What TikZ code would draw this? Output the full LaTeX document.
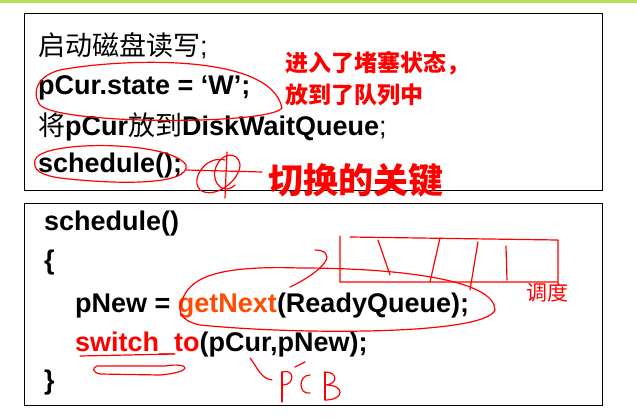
\documentclass[tikz,border=0pt]{standalone}
\usepackage{fontspec}
\setmainfont{Liberation Sans}
\newfontfamily\cjk{Noto Sans CJK SC}
\begin{document}
\begin{tikzpicture}[x=1pt,y=-1pt,
  code/.style={anchor=west,inner sep=0pt,font=\fontsize{27}{27}\selectfont},
  ann/.style={anchor=west,inner sep=0pt,text=red,font=\cjk\bfseries\fontsize{23}{23}\selectfont},
  ink/.style={red,line width=1.2pt,line cap=round,line join=round},
  frame/.style={draw=black,line width=1.2pt}]
\useasboundingbox (0,0) rectangle (637,418);
\fill[yellow!60!green!70!white] (0,0) rectangle (637,3);
\node[frame,minimum width=578,minimum height=177,anchor=north west,inner sep=0] (b1) at (24,13) {};
\node[frame,minimum width=578,minimum height=202,anchor=north west,inner sep=0] (b2) at (24,203) {};
\node[code] (l1) at (38,46) {{\cjk 启动磁盘读写};};
\node[code] (l2) at (38,88) {\textbf{pCur.state = ‘W’;}};
\node[code] (l3) at (38,127) {{\cjk 将}\textbf{pCur}{\cjk 放到}\textbf{DiskWaitQueue};};
\node[code] (l4) at (38,166) {\textbf{schedule();}};
\node[code] (m1) at (44,224) {\textbf{schedule()}};
\node[code] (m2) at (44,263) {\textbf{\{}};
\node[code] (m3) at (75,306) {\textbf{pNew = \textcolor{orange!60!red}{getNext}(ReadyQueue);}};
\node[code] (m4) at (75,345) {\textbf{\textcolor{red}{switch\_to}(pCur,pNew);}};
\node[code] (m5) at (44,383) {\textbf{\}}};
\node[ann] (a1) at (285,63) {进入了堵塞状态，};
\node[ann] (a2) at (285,95) {放到了队列中};
\node[ann,font=\cjk\bfseries\fontsize{35}{35}\selectfont] (a3) at (268,180) {切换的关键};
\node[ann,font=\cjk\fontsize{21}{21}\selectfont] (a4) at (526,292) {调度};
% circles
\draw[ink] (60,70) .. controls (110,60) and (270,50) .. (282,108) .. controls (270,125) and (60,125) .. (40,105) .. controls (30,90) and (40,75) .. (60,70);
\draw[ink] (35,160) .. controls (40,140) and (170,140) .. (186,165) .. controls (190,185) and (120,185) .. (60,178) .. controls (40,175) and (33,170) .. (35,160);
% star scribble
\draw[ink] (186,170) -- (262,172);
\draw[ink] (225,160) .. controls (205,155) and (190,180) .. (200,190) .. controls (215,200) and (240,180) .. (240,165) .. controls (238,150) and (220,152) .. (215,170) .. controls (212,185) and (225,195) .. (235,185);
\draw[ink] (227,152) -- (225,198);
% getNext ellipse
\draw[ink] (182,300) .. controls (190,280) and (210,265) .. (300,268) .. controls (400,268) and (495,280) .. (495,310) .. controls (485,335) and (300,335) .. (200,325) .. controls (178,320) and (178,310) .. (182,300);
\draw[ink] (290,287) .. controls (305,280) and (320,270) .. (325,262) .. controls (330,255) and (325,250) .. (315,250);
% queue
\draw[ink] (340,236) -- (340,282) -- (558,282) -- (558,240) -- (350,237);
\draw[ink] (378,240) -- (390,275);
\draw[ink] (440,238) -- (430,282);
\draw[ink] (478,242) -- (470,290);
\draw[ink] (506,246) -- (507,280);
% switch_to underline
\draw[ink] (80,356) -- (175,354);
\draw[ink] (97,366) -- (165,366) .. controls (190,362) and (195,372) .. (160,375) -- (100,374) .. controls (92,372) and (92,368) .. (97,366);
% PCB
\draw[ink] (250,358) .. controls (258,368) and (260,378) .. (272,380);
\draw[ink] (282,372) -- (282,402);
\draw[ink] (282,372) .. controls (295,368) and (295,385) .. (283,385);
\draw[ink] (305,362) -- (295,367);
\draw[ink] (310,375) .. controls (298,375) and (298,395) .. (310,393);
\draw[ink] (325,372) -- (325,400);
\draw[ink] (325,372) .. controls (338,372) and (338,384) .. (326,385) .. controls (345,385) and (345,400) .. (325,400);
\end{tikzpicture}
\end{document}
